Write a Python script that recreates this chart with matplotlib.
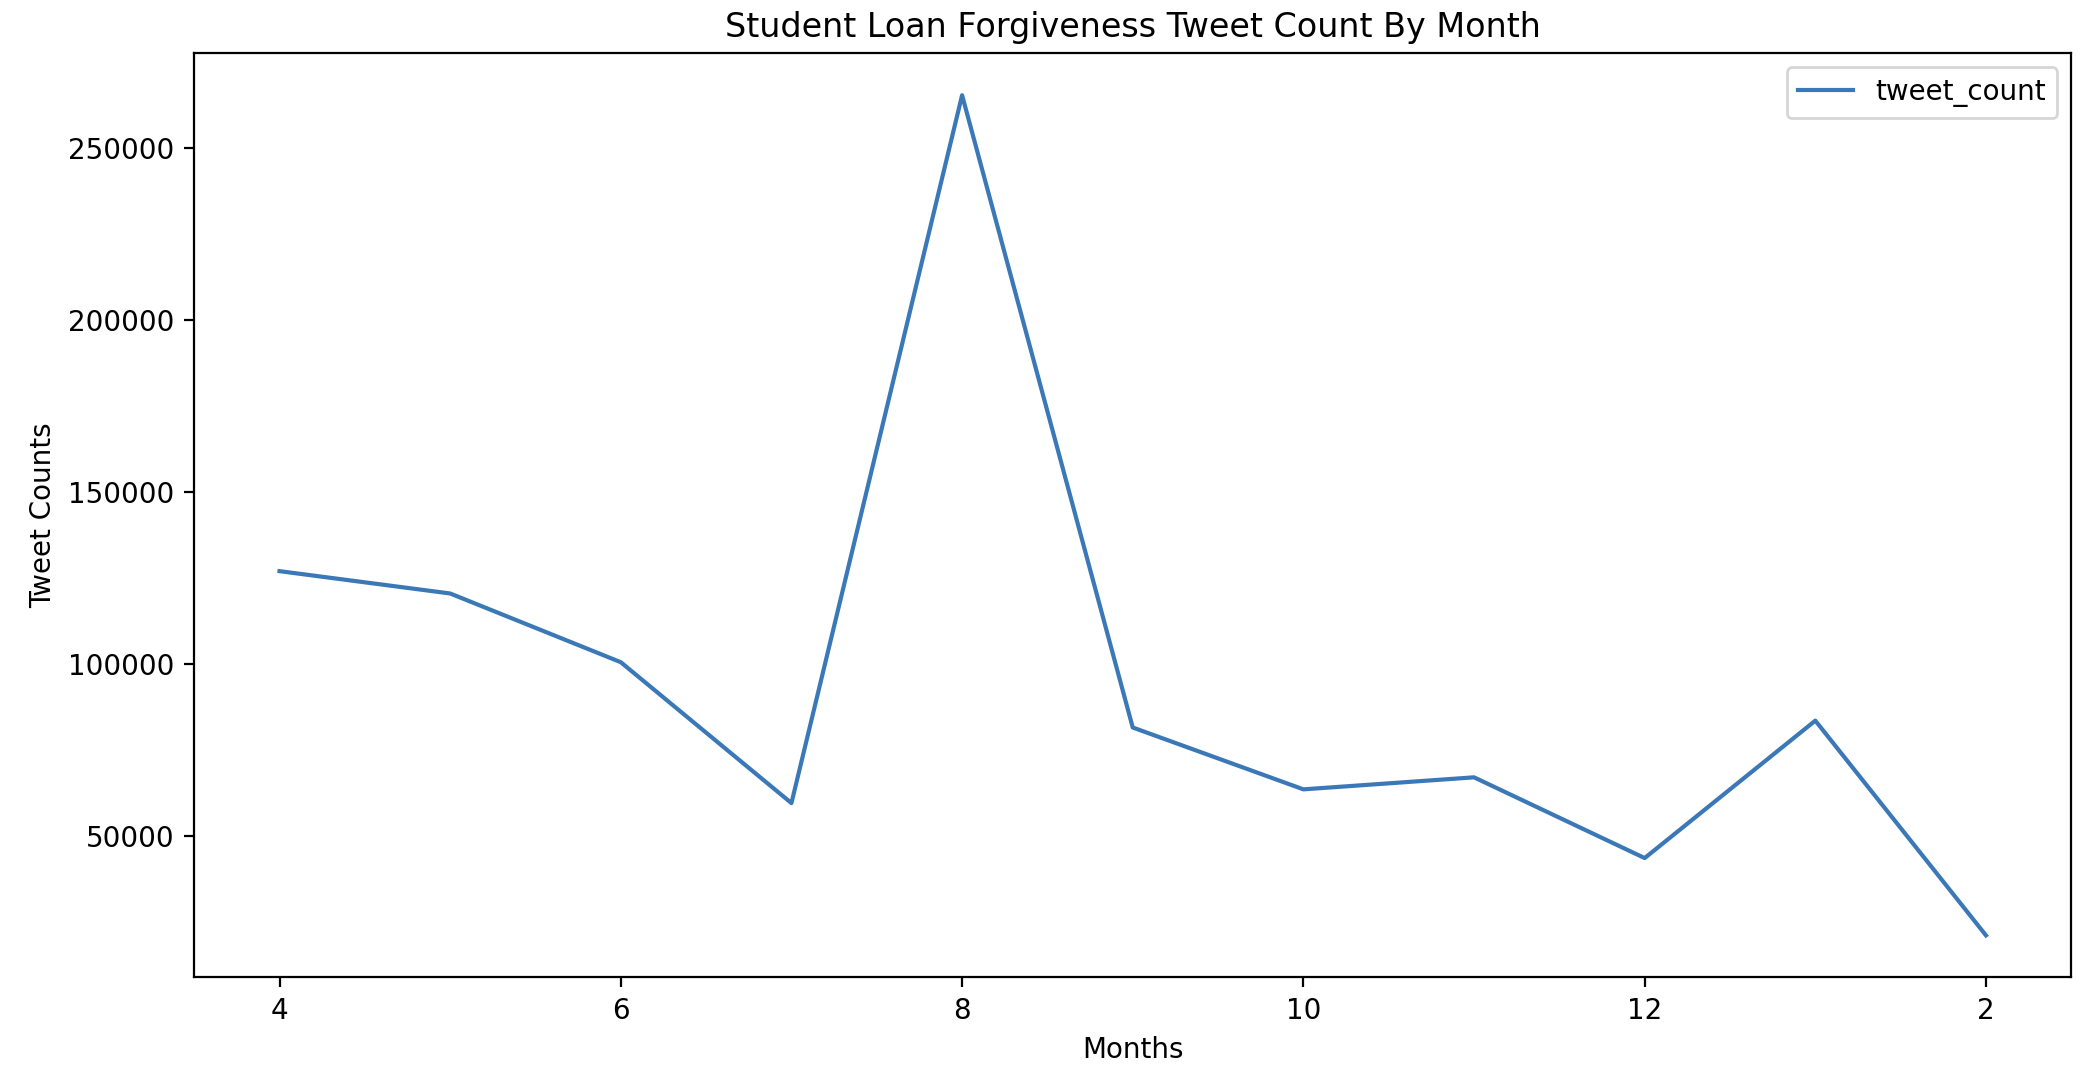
import matplotlib
matplotlib.use("Agg")
import matplotlib.pyplot as plt

months = [4, 5, 6, 7, 8, 9, 10, 11, 12, 1, 2]
tweet_count = [127000, 120500, 100500, 59500, 265500, 81500, 63500, 67000, 43500, 83500, 21000]

fig, ax = plt.subplots(figsize=(10.44, 5.43), dpi=200)
fig.subplots_adjust(left=0.093, right=0.992, top=0.951, bottom=0.10)
idx = list(range(len(months)))
ax.plot(idx, tweet_count, color="#3b78b8", label="tweet_count")
ax.set_xticks(idx[::2])
ax.set_xticklabels([str(m) for m in months[::2]])
ax.set_title("Student Loan Forgiveness Tweet Count By Month")
ax.set_xlabel("Months")
ax.set_ylabel("Tweet Counts")
ax.legend(loc="upper right")
fig.savefig("out.png")
